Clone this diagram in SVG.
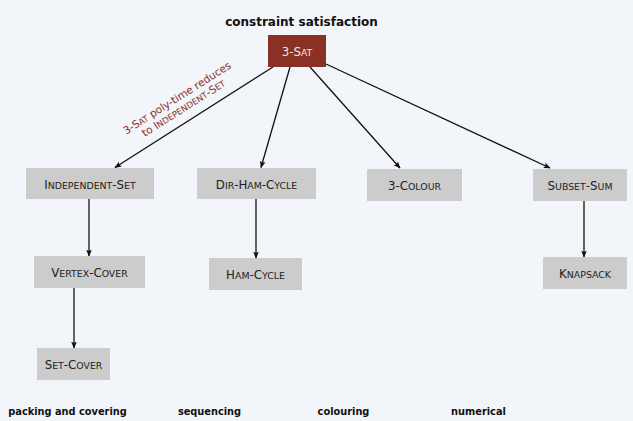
<svg xmlns="http://www.w3.org/2000/svg" width="633" height="421" viewBox="0 0 633 421">
<style>
.bg{fill:#f2f5f9}
.box{fill:#cccccc}
.sat{fill:#8b3024}
.t{font-family:"DejaVu Sans","Open Sans",sans-serif;font-size:11.8px;fill:#222;text-anchor:middle}
.s{font-size:9.4px}
.h{font-family:"DejaVu Sans","Open Sans",sans-serif;font-size:12px;font-weight:bold;fill:#111;text-anchor:middle}
.b{font-size:9.8px}
.lbl{font-family:"DejaVu Sans","Open Sans",sans-serif;font-size:10.5px;fill:#8b3024;text-anchor:middle}
.ls{font-size:8.5px}
.e{stroke:#111;stroke-width:1.3;fill:none;marker-end:url(#ah)}
</style>
<defs>
<marker id="ah" viewBox="0 0 10 10" refX="9" refY="5" markerWidth="7" markerHeight="7" markerUnits="userSpaceOnUse" orient="auto">
<path d="M0,1 L10,5 L0,9 L2,5 Z" fill="#111"/>
</marker>
</defs>
<rect class="bg" x="0" y="0" width="633" height="421"/>
<text class="h" x="301.5" y="26">constraint satisfaction</text>
<g id="connectors">
<line class="e" x1="273" y1="67" x2="115" y2="167.5"/>
<line class="e" x1="290" y1="67" x2="261" y2="167.5"/>
<line class="e" x1="310" y1="67" x2="400" y2="168"/>
<line class="e" x1="326" y1="64" x2="550" y2="168"/>
<line class="e" x1="89" y1="199" x2="89" y2="256"/>
<line class="e" x1="256" y1="199" x2="256" y2="258"/>
<line class="e" x1="74" y1="288" x2="74" y2="348"/>
<line class="e" x1="584" y1="201" x2="584" y2="257"/>
<g transform="translate(179,101) rotate(-32.5)">
<text class="lbl" x="0" y="0">3-S<tspan class="ls">AT</tspan> poly-time reduces</text>
<text class="lbl" x="0" y="12">to I<tspan class="ls">NDEPENDENT</tspan>-S<tspan class="ls">ET</tspan></text>
</g>
</g>
<g id="n-3sat"><rect class="sat" x="268" y="35" width="58" height="32"/><text class="t" x="297" y="56" style="fill:#f3e4e0">3-S<tspan class="s">AT</tspan></text></g>
<g id="n-is"><rect class="box" x="26" y="168" width="128" height="31"/><text class="t" x="90" y="188.5">I<tspan class="s">NDEPENDENT</tspan>-S<tspan class="s">ET</tspan></text></g>
<g id="n-dhc"><rect class="box" x="197" y="168" width="119" height="31"/><text class="t" x="256.5" y="188.5">D<tspan class="s">IR</tspan>-H<tspan class="s">AM</tspan>-C<tspan class="s">YCLE</tspan></text></g>
<g id="n-col"><rect class="box" x="367" y="169" width="95" height="32"/><text class="t" x="414.5" y="189.5">3-C<tspan class="s">OLOUR</tspan></text></g>
<g id="n-ss"><rect class="box" x="533" y="169" width="94" height="32"/><text class="t" x="580" y="189.5">S<tspan class="s">UBSET</tspan>-S<tspan class="s">UM</tspan></text></g>
<g id="n-vc"><rect class="box" x="34" y="256" width="111" height="32"/><text class="t" x="89.5" y="276.5">V<tspan class="s">ERTEX</tspan>-C<tspan class="s">OVER</tspan></text></g>
<g id="n-hc"><rect class="box" x="209" y="258" width="93" height="32"/><text class="t" x="255.5" y="278.5">H<tspan class="s">AM</tspan>-C<tspan class="s">YCLE</tspan></text></g>
<g id="n-kn"><rect class="box" x="543" y="257" width="84" height="32"/><text class="t" x="585" y="277.5">K<tspan class="s">NAPSACK</tspan></text></g>
<g id="n-sc"><rect class="box" x="37" y="348" width="73" height="32"/><text class="t" x="73.5" y="368.5">S<tspan class="s">ET</tspan>-C<tspan class="s">OVER</tspan></text></g>
<text class="h b" x="67.5" y="415">packing and covering</text>
<text class="h b" x="209.5" y="415">sequencing</text>
<text class="h b" x="343.5" y="415">colouring</text>
<text class="h b" x="478.5" y="415">numerical</text>
</svg>
